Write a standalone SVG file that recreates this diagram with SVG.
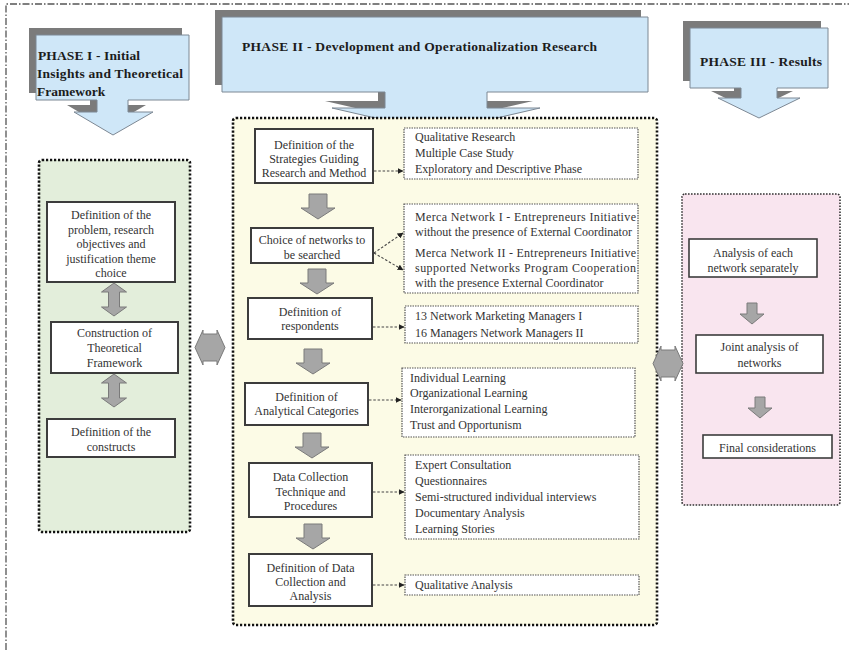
<svg xmlns="http://www.w3.org/2000/svg" xmlns:xlink="http://www.w3.org/1999/xlink" width="849" height="650" viewBox="0 0 849 650">
<style>
.frame{fill:none;stroke:#555;stroke-width:1.3;stroke-dasharray:7 2 1.5 2}
.shadow{fill:#7b7b7b}
.callout{fill:#cfe7f8;stroke:#7d8894;stroke-width:1}
.hdr{font-family:"Liberation Serif","Times New Roman",serif;font-weight:bold;font-size:13.5px;fill:#1c1c1c}
.panel{stroke:#111;stroke-width:2.6;stroke-dasharray:2.2 1.8}
.pink{stroke:#333;stroke-width:1.6;stroke-dasharray:1.6 1.4}
.box{fill:#fff;stroke:#3c3c3c;stroke-width:2}
.rbox{fill:#fff;stroke:#3c3c3c;stroke-width:1.6}
.dbox{fill:#fff;stroke:#555;stroke-width:1.2;stroke-dasharray:1.5 1}
.t{font-family:"Liberation Serif","Times New Roman",serif;font-size:12px;fill:#333}
.c{text-anchor:middle}
.garrow{fill:#a6a6a6;stroke:#7a7a7a;stroke-width:1}
.conn{fill:none;stroke:#444;stroke-width:1.1;stroke-dasharray:2.5 1.8}
</style>
<defs>
<marker id="ah" viewBox="0 0 10 10" refX="9" refY="5" markerWidth="6" markerHeight="6" orient="auto" markerUnits="userSpaceOnUse">
<path d="M0,0 L10,5 L0,10 Z" fill="#222"/>
</marker>
<path id="downBig" d="M-9,0 H9 V14 H17 L0,25 L-17,14 H-9 Z"/>
<path id="downSmall" d="M-5,0 H5 V11 H12 L0,21 L-12,11 H-5 Z"/>
<path id="vDouble" d="M0,0 L12.5,9 H5.5 V24 H12.5 L0,33 L-12.5,24 H-5.5 V9 H-12.5 Z"/>
<path id="hDouble" d="M0,17.5 L8,0 V4 H22 V0 L30,17.5 L22,35 V31 H8 V35 Z"/>
</defs>

<rect width="849" height="650" fill="#fff"/>
<g id="frame">
<path class="frame" d="M6,650 V4 H849"/>
</g>

<!-- Phase headers -->
<g id="phase1">
<path class="shadow" transform="translate(-7,-7)" d="M36,35 H189 V100 H128 V112 H153 L113,135 L74,112 H97 V100 H36 Z"/>
<path class="callout" d="M36,35 H189 V100 H128 V112 H153 L113,135 L74,112 H97 V100 H36 Z"/>
<text class="hdr" x="38" y="60" textLength="102" lengthAdjust="spacing">PHASE I - Initial</text>
<text class="hdr" x="37" y="78" textLength="146" lengthAdjust="spacing">Insights and Theoretical</text>
<text class="hdr" x="37" y="96">Framework</text>
</g>

<g id="phase2">
<path class="shadow" transform="translate(-7,-7)" d="M222,17 H648 V92 H487 V108 H540 L436,132 L332,108 H385 V92 H222 Z"/>
<path class="callout" d="M222,17 H648 V92 H487 V108 H540 L436,132 L332,108 H385 V92 H222 Z"/>
<text class="hdr" x="242" y="51" textLength="355" lengthAdjust="spacing">PHASE II - Development and Operationalization Research</text>
</g>

<g id="phase3">
<path class="shadow" transform="translate(-7,-7)" d="M690,28 H828 V88 H777 V98 H800 L759,118 L718,98 H741 V88 H690 Z"/>
<path class="callout" d="M690,28 H828 V88 H777 V98 H800 L759,118 L718,98 H741 V88 H690 Z"/>
<text class="hdr" x="700" y="66" textLength="122" lengthAdjust="spacing">PHASE III - Results</text>
</g>

<!-- Panels -->
<g id="panel1">
<rect class="panel" x="39" y="160" width="151" height="372" rx="3" fill="#e3eedb"/>
</g>
<g id="panel2">
<rect class="panel" x="233" y="118" width="424" height="507" rx="3" fill="#fcfbe6"/>
</g>
<g id="panel3">
<rect class="pink" x="682" y="194" width="158" height="311" rx="3" fill="#f9e5ef"/>
</g>

<!-- Phase I nodes -->
<g id="n-problem">
<rect class="box" x="47" y="202" width="128" height="80"/>
<text class="t c" x="111" y="219">Definition of the</text>
<text class="t c" x="111" y="234">problem, research</text>
<text class="t c" x="111" y="248">objectives and</text>
<text class="t c" x="111" y="263">justification theme</text>
<text class="t c" x="111" y="277">choice</text>
</g>
<g id="n-theory">
<rect class="box" x="51" y="322" width="127" height="51"/>
<text class="t c" x="114.5" y="337">Construction of</text>
<text class="t c" x="114.5" y="352">Theoretical</text>
<text class="t c" x="114.5" y="367">Framework</text>
</g>
<g id="n-constructs">
<rect class="box" x="47" y="419" width="128" height="38"/>
<text class="t c" x="111" y="436">Definition of the</text>
<text class="t c" x="111" y="451">constructs</text>
</g>

<!-- Phase II nodes -->
<g id="n-strategies">
<rect class="box" x="255" y="129" width="118" height="54"/>
<text class="t c" x="314" y="149">Definition of the</text>
<text class="t c" x="314" y="163">Strategies Guiding</text>
<text class="t c" x="314" y="177">Research and Method</text>
</g>
<g id="n-choice">
<rect class="box" x="251" y="228" width="122" height="35"/>
<text class="t c" x="312" y="244">Choice of networks to</text>
<text class="t c" x="312" y="259">be searched</text>
</g>
<g id="n-respondents">
<rect class="box" x="248" y="298" width="124" height="41"/>
<text class="t c" x="310" y="316">Definition of</text>
<text class="t c" x="310" y="330">respondents</text>
</g>
<g id="n-categories">
<rect class="box" x="245" y="383" width="123" height="42"/>
<text class="t c" x="306.5" y="401">Definition of</text>
<text class="t c" x="306.5" y="415">Analytical Categories</text>
</g>
<g id="n-datacollection">
<rect class="box" x="249" y="463" width="123" height="54"/>
<text class="t c" x="310.5" y="481">Data Collection</text>
<text class="t c" x="310.5" y="496">Technique and</text>
<text class="t c" x="310.5" y="510">Procedures</text>
</g>
<g id="n-analysis">
<rect class="box" x="249" y="554" width="123" height="52"/>
<text class="t c" x="310.5" y="572">Definition of Data</text>
<text class="t c" x="310.5" y="586">Collection and</text>
<text class="t c" x="310.5" y="600">Analysis</text>
</g>

<g id="r-method">
<rect class="dbox" x="404" y="128" width="234" height="51"/>
<text class="t" x="415" y="141">Qualitative Research</text>
<text class="t" x="415" y="157">Multiple Case Study</text>
<text class="t" x="415" y="173">Exploratory and Descriptive Phase</text>
</g>
<g id="r-networks">
<rect class="dbox" x="404" y="204" width="234" height="89"/>
<text class="t" x="415" y="221" textLength="221" lengthAdjust="spacing">Merca Network I - Entrepreneurs Initiative</text>
<text class="t" x="415" y="236">without the presence of External Coordinator</text>
<text class="t" x="415" y="257" textLength="221" lengthAdjust="spacing">Merca Network II - Entrepreneurs Initiative</text>
<text class="t" x="415" y="272" textLength="221" lengthAdjust="spacing">supported Networks Program Cooperation</text>
<text class="t" x="415" y="287">with the presence External Coordinator</text>
</g>
<g id="r-respondents">
<rect class="dbox" x="405" y="306" width="233" height="37"/>
<text class="t" x="415" y="320">13 Network Marketing Managers I</text>
<text class="t" x="415" y="337">16 Managers Network Managers II</text>
</g>
<g id="r-categories">
<rect class="dbox" x="402" y="368" width="233" height="69"/>
<text class="t" x="410" y="382">Individual  Learning</text>
<text class="t" x="410" y="397">Organizational Learning</text>
<text class="t" x="410" y="413">Interorganizational Learning</text>
<text class="t" x="410" y="429">Trust and Opportunism</text>
</g>
<g id="r-techniques">
<rect class="dbox" x="405" y="455" width="234" height="84"/>
<text class="t" x="415" y="469">Expert Consultation</text>
<text class="t" x="415" y="485">Questionnaires</text>
<text class="t" x="415" y="501">Semi-structured individual interviews</text>
<text class="t" x="415" y="517">Documentary Analysis</text>
<text class="t" x="415" y="533">Learning Stories</text>
</g>
<g id="r-qualitative">
<rect class="dbox" x="405" y="575" width="234" height="20"/>
<text class="t" x="415" y="589">Qualitative Analysis</text>
</g>

<!-- Phase III nodes -->
<g id="n-each">
<rect class="rbox" x="689" y="239" width="128" height="38"/>
<text class="t c" x="753" y="257">Analysis of each</text>
<text class="t c" x="753" y="272">network separately</text>
</g>
<g id="n-joint">
<rect class="rbox" x="696" y="335" width="127" height="38"/>
<text class="t c" x="759.5" y="351">Joint analysis of</text>
<text class="t c" x="759.5" y="367">networks</text>
</g>
<g id="n-final">
<rect class="rbox" x="703" y="435" width="129" height="23"/>
<text class="t c" x="767.5" y="452">Final considerations</text>
</g>

<!-- Connectors -->
<g id="connectors">
<use xlink:href="#vDouble" href="#vDouble" class="garrow" x="114" y="283"/>
<use xlink:href="#vDouble" href="#vDouble" class="garrow" x="114" y="374"/>
<use xlink:href="#hDouble" href="#hDouble" class="garrow" x="195" y="330"/>
<use xlink:href="#hDouble" href="#hDouble" class="garrow" x="653" y="346"/>

<use xlink:href="#downBig" href="#downBig" class="garrow" x="318" y="194"/>
<use xlink:href="#downBig" href="#downBig" class="garrow" x="317" y="269"/>
<use xlink:href="#downBig" href="#downBig" class="garrow" x="313" y="349"/>
<use xlink:href="#downBig" href="#downBig" class="garrow" x="312" y="433"/>
<use xlink:href="#downBig" href="#downBig" class="garrow" x="313" y="524"/>

<use xlink:href="#downSmall" href="#downSmall" class="garrow" x="752" y="303"/>
<use xlink:href="#downSmall" href="#downSmall" class="garrow" x="760" y="397"/>

<path class="conn" marker-end="url(#ah)" d="M374,171 H403"/>
<path class="conn" marker-end="url(#ah)" d="M374,253 L403,233"/>
<path class="conn" marker-end="url(#ah)" d="M374,253 L403,270"/>
<path class="conn" marker-end="url(#ah)" d="M373,327 H404"/>
<path class="conn" marker-end="url(#ah)" d="M369,400 H401"/>
<path class="conn" marker-end="url(#ah)" d="M373,492 H404"/>
<path class="conn" marker-end="url(#ah)" d="M373,585 H404"/>
</g>
</svg>
